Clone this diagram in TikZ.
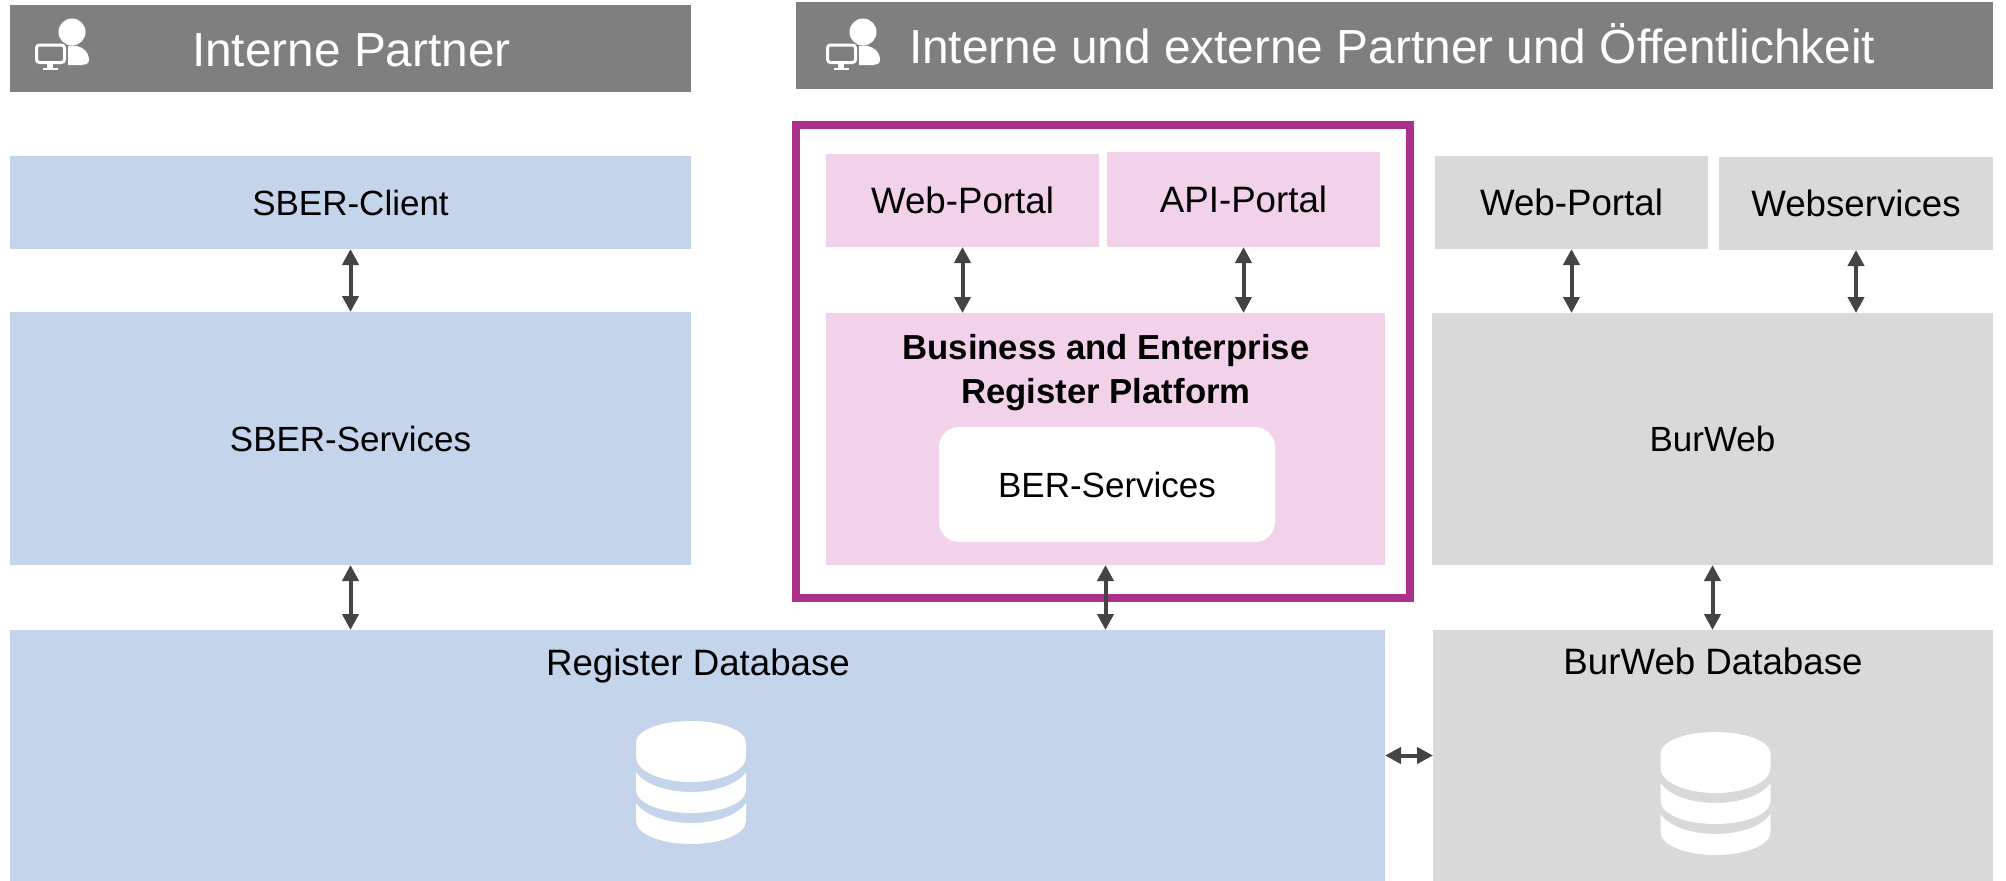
\documentclass[tikz,border=0pt]{standalone}
\usepackage{fontspec}
\setmainfont{Liberation Sans}
\usetikzlibrary{arrows.meta,calc}
\definecolor{bluebox}{HTML}{C4D4EA}
\definecolor{pinkbox}{HTML}{F2D2EA}
\definecolor{greybox}{HTML}{D9D9D9}
\definecolor{headbox}{HTML}{7F7F7F}
\definecolor{frameclr}{HTML}{AB308A}
\definecolor{arrowclr}{HTML}{444444}
\tikzset{
  plainbox/.style={rectangle,inner sep=0pt,outer sep=0pt,font=\fontsize{35}{42}\selectfont,text height=25pt,text depth=0pt,text=black},
  widertext/.style={font=\fontsize{36.7}{42}\selectfont},
  bluerect/.style={plainbox,fill=bluebox},
  pinkrect/.style={plainbox,fill=pinkbox},
  greyrect/.style={plainbox,fill=greybox},
  headrect/.style={rectangle,inner sep=0pt,outer sep=0pt,fill=headbox},
  headtext/.style={inner sep=0pt,outer sep=0pt,text=white,font=\fontsize{47.8}{54}\selectfont,text height=33pt,text depth=0pt},
  labeltext/.style={inner sep=0pt,outer sep=0pt,font=\fontsize{36.7}{42}\selectfont,text height=25pt,text depth=0pt,text=black},
  biarrow/.style={draw=arrowclr,line width=4pt,{Triangle[length=16pt,width=16pt]}-{Triangle[length=16pt,width=16pt]},shorten >=0pt,shorten <=0pt},
  frameline/.style={draw=frameclr,line width=8pt},
}
\newcommand{\areabox}[7]{% name,x1,y1,x2,y2,style,text
  \pgfmathsetmacro{\bw}{#4-#2}\pgfmathsetmacro{\bh}{#5-#3}
  \pgfmathsetmacro{\cx}{(#2+#4)/2}\pgfmathsetmacro{\cy}{(#3+#5)/2}
  \node[#6,minimum width=\bw pt,minimum height=\bh pt] (#1) at (\cx,\cy) {#7};
}
\newcommand{\dbicon}[2]{%
  \begin{scope}[shift={(#1,#2)},fill=white]
  \fill (0,22) .. controls (0,9) and (25,0) .. (55,0) .. controls (85,0) and (110,9) .. (110,22) -- (110,36) .. controls (110,50) and (85,61) .. (55,61) .. controls (25,61) and (0,50) .. (0,36) -- cycle;
  \fill (0,51) .. controls (8,63) and (30,71) .. (55,71) .. controls (80,71) and (102,63) .. (110,51) -- (110,69) .. controls (110,82) and (85,92) .. (55,92) .. controls (25,92) and (0,82) .. (0,69) -- cycle;
  \fill (0,82) .. controls (8,94) and (30,102) .. (55,102) .. controls (80,102) and (102,94) .. (110,82) -- (110,100) .. controls (110,113) and (85,123) .. (55,123) .. controls (25,123) and (0,113) .. (0,100) -- cycle;
  \end{scope}}
\newcommand{\usericon}[2]{%
  \begin{scope}[shift={(#1,#2)}]
  \fill[white] (72,32) circle (13.5);
  \fill[white] (68,46) .. controls (82,44) and (89,52) .. (89,60) .. controls (89,64) and (85,65) .. (82,65) -- (68,65) -- cycle;
  \draw[white,line width=3pt,rounded corners=3pt] (36.5,45) rectangle (64.5,62.5);
  \fill[white] (47,64) rectangle (53,68);
  \fill[white] (43,67.5) rectangle (58,70);
  \end{scope}}
\begin{document}
\begin{tikzpicture}[x=1pt,y=-1pt]
\useasboundingbox (0,0) rectangle (2006,881);
\areabox{headA}{10}{5}{691}{92}{headrect}{}
\areabox{headB}{796}{2}{1993}{89}{headrect}{}
\usericon{0}{0}
\usericon{791}{0}
\node[headtext,anchor=base west] (headAt) at (192,66) {Interne Partner};
\node[headtext,anchor=base west] (headBt) at (909,63) {Interne und externe Partner und Öffentlichkeit};
\areabox{sclient}{10}{156}{691}{249}{bluerect}{SBER-Client}
\areabox{sserv}{10}{312}{691}{565}{bluerect}{SBER-Services}
\areabox{regdb}{10}{630}{1385}{881}{bluerect}{}
\node[labeltext] (regdbt) at (698,663) {Register Database};
\dbicon{636}{721}
\draw[frameline] (796,125) rectangle (1410,597.5);
\areabox{wpa}{826}{154}{1099}{247}{pinkrect,widertext}{Web-Portal}
\areabox{api}{1107}{152}{1380}{247}{pinkrect,widertext}{API-Portal}
\areabox{plat}{826}{313}{1385}{565}{pinkrect}{}
\node[labeltext,font=\fontsize{34.7}{44}\selectfont\bfseries,align=center,text height=,text depth=] (platt) at (1106,373) {Business and Enterprise\\Register Platform};
\node[plainbox,fill=white,rounded corners=20pt,minimum width=336pt,minimum height=115pt] (berserv) at (1107,484.5) {BER-Services};
\areabox{wpb}{1435}{156}{1708}{249}{greyrect,widertext}{Web-Portal}
\areabox{wsv}{1719}{157}{1993}{250}{greyrect,widertext}{Webservices}
\areabox{burweb}{1432}{313}{1993}{565}{greyrect}{BurWeb}
\areabox{burdb}{1433}{630}{1993}{881}{greyrect}{}
\node[labeltext] (burdbt) at (1713,662) {BurWeb Database};
\dbicon{1660.5}{732}
\draw[biarrow] (sclient.south) -- (sserv.north);
\draw[biarrow] (sserv.south) -- (sserv.south |- regdb.north);
\draw[biarrow] (wpa.south) -- (wpa.south |- plat.north);
\draw[biarrow] (api.south) -- (api.south |- plat.north);
\draw[biarrow] (plat.south) -- (plat.south |- regdb.north);
\draw[biarrow] (wpb.south) -- (wpb.south |- burweb.north);
\draw[biarrow] (wsv.south) -- (wsv.south |- burweb.north);
\draw[biarrow] (burweb.south) -- (burweb.south |- burdb.north);
\draw[biarrow] (regdb.east) -- (burdb.west);
\end{tikzpicture}
\end{document}
